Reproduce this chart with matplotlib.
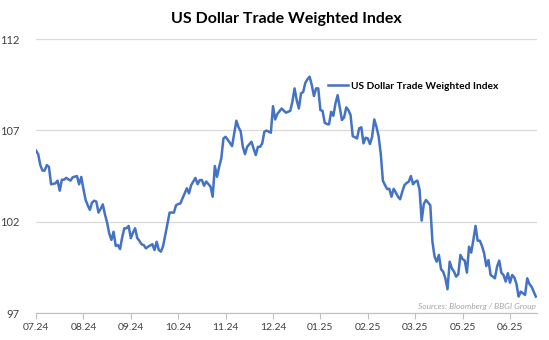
import numpy as np
import matplotlib
matplotlib.use("Agg")
import matplotlib.pyplot as plt

plt.rcParams['font.family'] = ['Lato', 'DejaVu Sans']

# trading-day index from the start of the series, and index level
day = [0, 1, 2, 3, 4, 5, 6, 7, 9, 10, 11, 12, 13, 14, 16, 17, 19, 20, 21, 22,
       23, 24, 25, 26, 27, 28, 29, 30, 31, 32, 33, 34, 35, 36, 37, 38, 39, 40,
       41, 42, 43, 44, 45, 46, 47, 48, 49, 50, 51, 52, 54, 55, 56, 57, 58, 59,
       60, 61, 62, 64, 65, 66, 67, 68, 70, 71, 72, 74, 75, 76, 77, 78, 79, 81,
       82, 83, 84, 85, 86, 87, 88, 90, 91, 93, 94, 95, 96, 97, 98, 100, 101,
       102, 103, 104, 105, 106, 107, 109, 110, 111, 112, 114, 116, 118, 119,
       120, 121, 122, 123, 124, 125, 126, 127, 128, 129, 130, 131, 132, 133,
       134, 135, 136, 137, 138, 139, 140, 142, 143, 144, 145, 146, 147, 149,
       150, 151, 152, 153, 154, 155, 156, 157, 158, 159, 160, 161, 162, 163,
       164, 165, 166, 167, 168, 169, 170, 171, 172, 173, 174, 175, 176, 177,
       178, 179, 180, 181, 183, 184, 185, 186, 187, 188, 189, 190, 191, 192,
       193, 194, 195, 196, 197, 198, 199, 200, 201, 202, 203, 204, 205, 206,
       207, 208, 209, 210, 211, 212, 213, 214, 215, 216, 217, 218, 219, 220,
       221, 222, 223, 224, 225, 226, 227, 228, 229, 230, 231, 232]
dxy = [105.89, 105.7, 105.1, 104.8, 104.8, 105.1, 105.0, 104.05, 104.1, 104.25,
       103.7, 104.3, 104.3, 104.4, 104.25, 104.43, 104.5, 104.05, 104.45, 103.8,
       103.2, 102.9, 102.65, 103.05, 103.15, 103.1, 102.5, 102.7, 102.95, 102.4,
       101.95, 101.35, 101.0, 101.45, 100.67, 100.72, 100.5, 101.15, 101.64,
       101.64, 101.77, 101.1, 101.4, 101.64, 101.1, 100.95, 100.76, 100.72,
       100.54, 100.63, 100.77, 100.45, 100.9, 100.45, 100.36, 100.68, 101.27,
       101.9, 102.5, 102.5, 102.9, 102.97, 103.0, 103.28, 103.83, 103.55, 104.0,
       104.4, 104.05, 104.28, 104.28, 103.97, 104.2, 103.92, 103.37, 105.05,
       104.46, 105.0, 105.47, 106.56, 106.65, 106.32, 106.14, 107.53, 107.17,
       106.95, 106.1, 105.7, 106.1, 106.38, 106.0, 105.65, 106.1, 106.1, 106.29,
       106.93, 106.99, 106.87, 108.33, 107.6, 107.9, 108.2, 107.97, 108.07,
       108.57, 109.3, 108.66, 108.2, 109.03, 109.1, 109.6, 109.8, 109.94, 109.48,
       108.88, 109.3, 109.3, 108.11, 108.07, 107.42, 107.35, 107.33, 108.02,
       107.8, 108.48, 108.93, 107.57, 107.71, 108.26, 108.11, 107.84, 106.69,
       106.56, 107.11, 107.17, 106.29, 106.6, 106.56, 106.25, 106.65, 107.6,
       107.2, 106.69, 105.74, 104.25, 104.0, 103.79, 103.8, 103.37, 103.8, 103.6,
       103.37, 103.23, 103.64, 104.0, 104.12, 104.19, 104.5, 104.05, 104.19,
       104.25, 103.77, 102.06, 102.97, 103.19, 102.9, 100.9, 100.08, 99.81,
       100.18, 99.4, 99.26, 98.9, 98.3, 99.81, 99.45, 99.27, 98.99, 99.13,
       100.18, 99.95, 99.87, 99.21, 100.63, 100.31, 101.0, 101.77, 100.96,
       100.96, 100.67, 100.27, 99.57, 99.9, 99.08, 99.0, 98.9, 99.54, 99.87,
       99.2, 99.08, 98.72, 99.18, 98.66, 99.08, 98.95, 98.59, 97.9, 98.17, 98.08,
       97.99, 98.9, 98.59, 98.44, 98.17, 97.9]

tick_labels = ["07.24", "08.24", "09.24", "10.24", "11.24", "12.24",
               "01.25", "02.25", "03.25", "05.25", "06.25"]
tick_step = 22
y_ticks = [97, 102, 107, 112]

fig = plt.figure(figsize=(5.49, 3.40), dpi=100)
ax = fig.add_axes([0.0656, 0.0794, 0.9124, 0.8056])

ax.plot(day, dxy, color="#4472C4", lw=1.8, label="US Dollar Trade Weighted Index")

ax.set_xlim(0, 232.5)
ax.set_ylim(97, 112)
ax.set_yticks(y_ticks)
ax.set_xticks(np.arange(len(tick_labels)) * tick_step)
ax.set_xticklabels(tick_labels)

ax.grid(axis="y", color="#D9D9D9", lw=0.9)
ax.set_axisbelow(True)
for s in ["top", "right", "left"]:
    ax.spines[s].set_visible(False)
ax.spines["bottom"].set_color("#BFBFBF")
ax.tick_params(axis="y", length=0, labelsize=8, colors="#404040", pad=12)
ax.tick_params(axis="x", length=4, color="#BFBFBF", labelsize=7.5,
               colors="#404040", pad=3)

fig.text(0.521, 0.945, "US Dollar Trade Weighted Index", ha="center", va="center",
         fontsize=11.5, fontweight="bold", color="black")

leg = ax.legend(loc="center left", bbox_to_anchor=(0.574, 0.828), frameon=False,
                prop={"size": 7.3, "weight": "bold"}, handlelength=2.0,
                handletextpad=0.3, borderaxespad=0)

ax.text(0.997, 0.012, "Sources: Bloomberg / BBGI Group", transform=ax.transAxes,
        ha="right", va="bottom", fontsize=6, style="italic", color="#A6A6A6")

fig.savefig("out.png", dpi=100)
